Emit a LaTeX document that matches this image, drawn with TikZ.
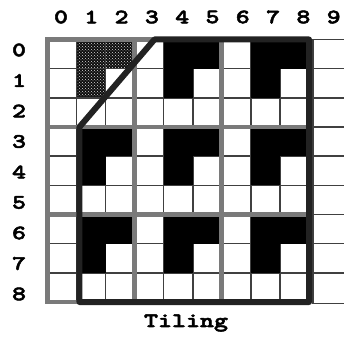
\documentclass[tikz,border=0pt]{standalone}
\usepackage{fontspec}
\newfontfamily\courbold{lmmonolt10-bold.otf}[FakeBold=2.5,FakeStretch=1.3]
\usetikzlibrary{patterns}
\definecolor{thinc}{HTML}{404040}
\definecolor{grayc}{HTML}{7A7A7A}
\definecolor{darkc}{HTML}{222222}
\tikzset{
  thinline/.style={draw=thinc,line width=1.4pt},
  graythick/.style={draw=grayc,line width=4.8pt},
  darkthick/.style={draw=darkc,line width=6pt,line join=round},
  blackcell/.style={fill=black},
  dotcell/.style={preaction={fill=black!95},pattern=crosshatch dots,pattern color=white!85!black},
  lbl/.style={font=\courbold\fontsize{20.5}{20.5}\selectfont,inner sep=0pt}
}
\begin{document}
\begin{tikzpicture}[x=29.06pt,y=-29.17pt]
\useasboundingbox[fill=white] (-1.6346,-1.354) rectangle (10.203,10.267);
% dotted cells
\fill[dotcell] (1,0) rectangle (3,1);
\fill[dotcell] (1,1) rectangle (2,2);
% thin grid
\foreach \i in {1,...,8} {
  \draw[thinline] (\i,0) -- (\i,9);
  \draw[thinline] (0,\i) -- (9,\i);
}
% black cells
\foreach \R in {0,3,6} {
  \foreach \C in {0,3,6} {
    \ifnum\R=0 \ifnum\C=0 \else
      \fill[blackcell] (\C+1,\R) rectangle (\C+3,\R+1);
      \fill[blackcell] (\C+1,\R+1) rectangle (\C+2,\R+2);
    \fi\else
      \fill[blackcell] (\C+1,\R) rectangle (\C+3,\R+1);
      \fill[blackcell] (\C+1,\R+1) rectangle (\C+2,\R+2);
    \fi
  }
}
% column 9
\draw[thinline] (9.14,0) -- (9.14,9.06);
\foreach \j in {0,...,8} {
  \draw[thinline] (9.1,\j) -- (10.4,\j);
}
\draw[thinline] (9.1,9.06) -- (10.4,9.06);
% gray tile lines
\draw[graythick] (0,0) rectangle (9,9);
\draw[graythick] (3,0) -- (3,9);
\draw[graythick] (6,0) -- (6,9);
\draw[graythick] (0,3) -- (9,3);
\draw[graythick] (0,6) -- (9,6);
% dark outline
\coordinate (p1) at (1.1,9);
\coordinate (p2) at (1.1,3);
\coordinate (p3) at (3.68,0);
\coordinate (p4) at (9,0);
\coordinate (p5) at (9,9);
\draw[darkthick] (p1) -- (p2) -- (p3) -- (p4) -- (p5) -- cycle;
% labels
\foreach \i in {0,...,9} {
  \node[lbl] (c\i) at ({0.4646+1.0427*\i},-0.771) {\i};
}
\foreach \r in {0,...,8} {
  \node[lbl] (r\r) at (-0.98,{0.36+1.0456*\r}) {\r};
}
\node[lbl,anchor=base] (title) at (4.766,9.856) {Tiling};
\end{tikzpicture}
\end{document}
